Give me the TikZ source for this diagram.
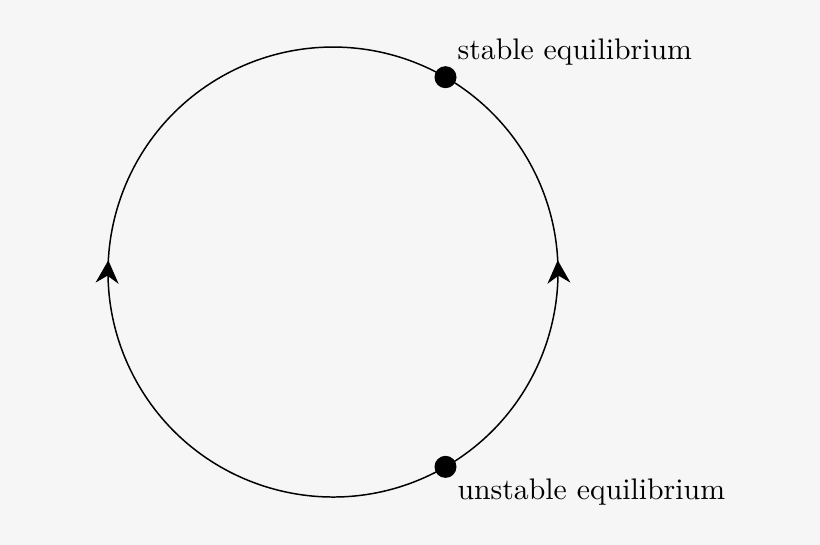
\documentclass[tikz,border=0pt]{standalone}
\usetikzlibrary{arrows.meta,decorations.markings}
\definecolor{bgcol}{RGB}{246,246,246}
\tikzset{
  eqpoint/.style={circle,fill=black,inner sep=0pt,minimum size=0.26cm},
  flow/.style={postaction={decorate},decoration={markings,
      mark=at position #1 with {\arrow{Stealth[length=7.7pt,width=7.7pt]}}}}
}
\begin{document}
\begin{tikzpicture}[line width=0.5pt]
\fill[bgcol] (-3.93,-3.221) rectangle (5.747,3.21);
\useasboundingbox (-3.93,-3.221) rectangle (5.747,3.21);
\def\rad{2.655}

\node at (60:\rad) [eqpoint] (stable) {};
\node at (-60:\rad) [eqpoint] (unstable) {};

\node at (stable.north east) [anchor=south west,inner sep=1pt] (stablelbl) {stable equilibrium};
\node at (unstable.south east) [anchor=north west,inner sep=1pt] (unstablelbl) {unstable equilibrium};

% both arcs run from the unstable point to the stable one
\draw[flow=0.525] (unstable.center) arc (-60:60:\rad);
\draw[flow=0.5125] (unstable.center) arc (300:60:\rad);
\end{tikzpicture}
\end{document}
